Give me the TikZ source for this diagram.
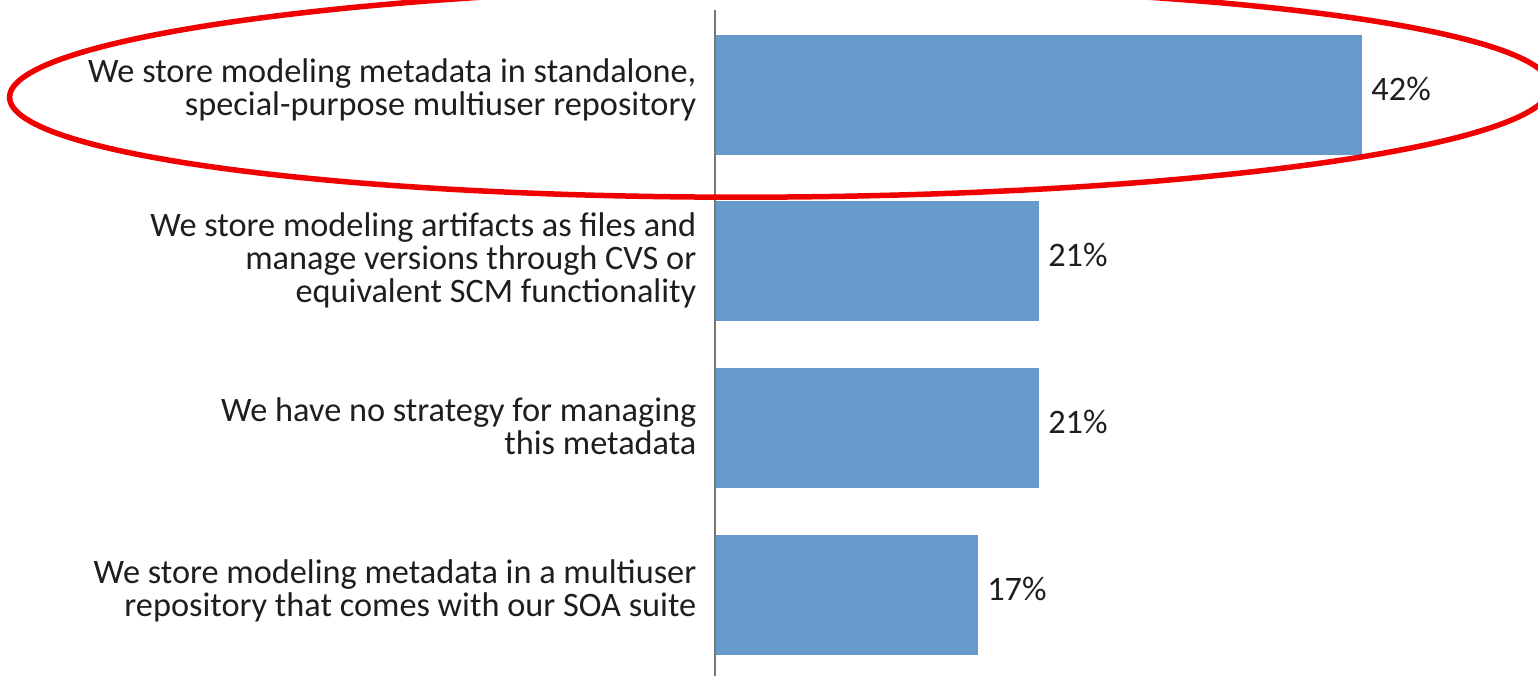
\documentclass[tikz,border=0pt]{standalone}
\usepackage{fontspec}
\setmainfont{Carlito}
\usetikzlibrary{positioning}

\definecolor{barblue}{RGB}{103,154,204}
\definecolor{axisgray}{RGB}{120,120,120}
\definecolor{ringred}{RGB}{240,0,0}
\definecolor{txt}{RGB}{30,30,30}

\tikzset{
  bar/.style={fill=barblue, draw=none, anchor=west, minimum height=1.2cm, inner sep=0pt},
  lbl/.style={anchor=east, align=right, text=txt, inner sep=0pt, font=\fontsize{9.75}{9.4}\selectfont},
  pct/.style={text=txt, inner sep=0pt, yshift=0.06cm, font=\fontsize{9.75}{9.4}\selectfont},
}

\begin{document}
\begin{tikzpicture}[x=0.01cm, y=-0.01cm]
  \useasboundingbox (0,0) rectangle (1538,676);

  % Bars
  \node[bar, minimum width=6.46cm] (b1) at (715,95) {};
  \node[bar, minimum width=3.23cm] (b2) at (715,261) {};
  \node[bar, minimum width=3.23cm] (b3) at (715,428) {};
  \node[bar, minimum width=2.62cm] (b4) at (715,595) {};

  % Axis
  \coordinate (top) at (715,10);
  \coordinate (bot) at (715,676);
  \draw[axisgray, line width=0.02cm] (top) -- (bot);

  % Labels
  \node[lbl] (l1) at (697,90) {We store modeling metadata in standalone,\\special-purpose multiuser repository};
  \node[lbl] (l2) at (697,260) {We store modeling artifacts as files and\\manage versions through CVS or\\equivalent SCM functionality};
  \node[lbl] (l3) at (697,426) {We have no strategy for managing\\this metadata};
  \node[lbl] (l4) at (697,591) {We store modeling metadata in a multiuser\\repository that comes with our SOA suite};

  % Values
  \node[pct, right=0.08cm of b1] (p1) {42\%};
  \node[pct, right=0.08cm of b2] (p2) {21\%};
  \node[pct, right=0.08cm of b3] (p3) {21\%};
  \node[pct, right=0.08cm of b4] (p4) {17\%};

  % Highlight
  \draw[ringred, line width=0.055cm, rotate around={0.4:(780,92)}]
    (780,92) ellipse [x radius=7.7cm, y radius=1.05cm];
\end{tikzpicture}
\end{document}
